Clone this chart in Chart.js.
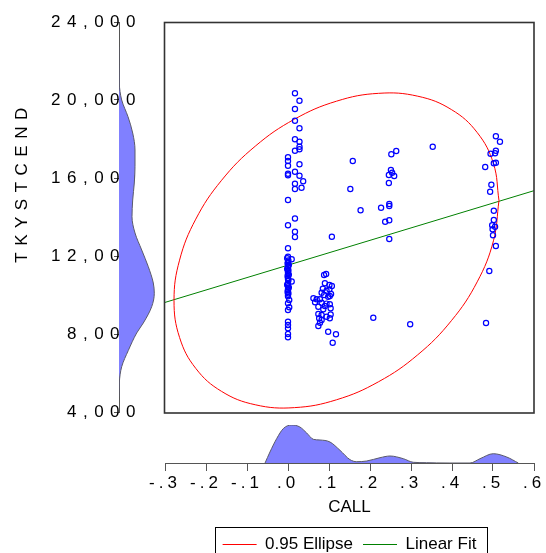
<!DOCTYPE html>
<html>
<head>
<meta charset="utf-8">
<script src="https://cdn.jsdelivr.net/npm/chart.js@4.4.1/dist/chart.umd.min.js"></script>
<style>
  html, body { margin: 0; padding: 0; background: #fff; overflow: hidden; }
  #wrap { position: relative; width: 546px; height: 553px; overflow: hidden; }
  canvas { position: absolute; left: 0; }
</style>
</head>
<body>
<div id="wrap">
  <canvas id="yTitle" width="40" height="364" style="top:0"></canvas>
  <canvas id="leftDens" width="165" height="430" style="top:0"></canvas>
  <canvas id="bottomDens" width="546" height="85" style="top:415px"></canvas>
  <canvas id="main" width="546" height="563" style="top:0"></canvas>
</div>
<script>
// observations: CALL (x) and TKYSTCEND (y)
const callValues = [
  0.017, 0.028, 0.017, 0.017, 0.028, 0.017, 0.028, 0.028, 0.028, 0.017, 0.000, 0.000, 0.028, 0.000,
  0.017, 0.000, 0.000, 0.028, 0.037, 0.017, 0.033, 0.017, 0.000, 0.017, 0.000, 0.017, 0.017, 0.000,
  0.000, 0.009, -0.002, 0.001, 0.000, -0.001, 0.002, 0.000, 0.000, -0.002, 0.001, 0.000, 0.000, 0.002,
  -0.001, 0.000, 0.000, 0.001, 0.009, 0.000, -0.002, 0.000, 0.002, 0.000, 0.000, -0.001, 0.001, 0.000,
  0.000, 0.003, 0.000, 0.003, 0.000, 0.000, 0.000, 0.000, 0.000, 0.000,
  0.093, 0.088, 0.090, 0.101, 0.107, 0.085, 0.101, 0.094, 0.082, 0.105, 0.088, 0.102, 0.098, 0.062,
  0.070, 0.078, 0.066, 0.082, 0.094, 0.102, 0.090, 0.074, 0.104, 0.086, 0.104, 0.074, 0.082, 0.094,
  0.102, 0.076, 0.082, 0.078, 0.074, 0.098, 0.117, 0.109,
  0.107, 0.158, 0.152, 0.177, 0.227, 0.247, 0.247, 0.237, 0.247, 0.247, 0.208, 0.298, 0.264, 0.252,
  0.251, 0.254, 0.246, 0.259, 0.246, 0.353,
  0.507, 0.517, 0.494, 0.507, 0.505, 0.507, 0.502, 0.481, 0.496, 0.493, 0.502, 0.502, 0.498, 0.505,
  0.499, 0.500, 0.507, 0.491, 0.483
];
const tkyValues = [
  20344, 19964, 19539, 18939, 18549, 17985, 17862, 17605, 17472, 17400, 17062, 16872, 16703, 16631,
  16323, 16221, 16139, 16118, 15831, 15708, 15503, 15436, 14872, 13923, 13580, 13247, 12975, 12400,
  11960, 11830, 11890, 11770, 11690, 11620, 11540, 11490, 11410, 11330, 11270, 11190, 11120, 11040,
  10980, 10890, 10820, 10760, 10690, 10600, 10530, 10450, 10390, 10300, 10240, 10160, 10090, 10010,
  9930, 9740, 9575, 9370, 9230, 8630, 8460, 8290, 8000, 7830,
  11077, 11026, 10600, 10513, 10462, 10324, 10290, 10221, 10118, 10052, 10000, 9950, 9913, 9831,
  9780, 9780, 9626, 9605, 9560, 9523, 9436, 9400, 9318, 9267, 9000, 9026, 8975, 8888,
  8805, 8805, 8718, 8580, 8411, 8118, 7985, 7554,
  12990, 16872, 15436, 14344, 14477, 14667, 14564, 13759, 13831, 12872, 8836, 8498, 17385, 17216,
  16410, 16272, 16154, 16103, 15744, 17605,
  18139, 17862, 17246, 17400, 17267, 16785, 16754, 16564, 15657, 15298, 14323, 13846, 13575, 13503,
  13369, 13062, 12513, 11231, 8564
];

// 0.95 ellipse outline, points read around the drawn curve
const ellipseCall = [0.5146, 0.5011, 0.4615, 0.3985, 0.3165, 0.2209, 0.1183, 0.0157, -0.0799, -0.1619,
  -0.2249, -0.2645, -0.278, -0.2645, -0.2249, -0.1619, -0.0799, 0.0157, 0.1183, 0.2209, 0.3165,
  0.3985, 0.4615, 0.5011, 0.5146];
const ellipseTky = [14847, 16741, 18331, 19510, 20195, 20342, 19939, 19014, 17631, 15884,
  13891, 11787, 9719, 7825, 6235, 5056, 4371, 4224, 4627, 5552, 6935,
  8682, 10675, 12779, 14847];

// linear fit end points
const fitCall = [-0.3, 0.6];
const fitTky = [9620, 15350];

// marginal density of TKYSTCEND (left)
const leftDensTky = [4785, 5488, 6324, 7154, 8052, 8564, 9400, 10087, 10616, 11452, 12308, 13180, 14016,
  14872, 15744, 16580, 17436, 18308, 19144, 20000, 20872, 22733];
const leftDens = [0, 0.3, 2.7, 9.3, 17.7, 24.3, 32.7, 35.3, 34.3, 29.3, 22.7, 16, 13,
  13.7, 15.3, 16, 16, 13.7, 9, 2.7, 0.3, 0];

// marginal density of CALL (bottom)
const bottomDensCall = [-0.056, -0.044, -0.0276, -0.0115, 0.009, 0.029, 0.0456, 0.0617, 0.078, 0.1024, 0.1268,
  0.151, 0.1676, 0.192, 0.2244, 0.2488, 0.2813, 0.3056, 0.338, 0.3627, 0.395, 0.444, 0.4683, 0.5007, 0.5334, 0.5617];
const bottomDens = [0, 11, 24.4, 34.4, 38, 36, 30, 23.7, 23, 21, 12.7,
  3.4, 1.3, 2, 5.3, 7, 4.3, 0.7, 0.3, 0.1, 0, 0, 4.3, 9.3, 6, 0];

const yTicks = [4000, 8000, 12000, 16000, 20000, 24000];

Chart.defaults.font.family = "'Liberation Sans', Arial, sans-serif";
Chart.defaults.font.size = 17;
Chart.defaults.color = '#000';
Chart.defaults.animation = false;
Chart.defaults.responsive = false;
Chart.defaults.plugins.tooltip.enabled = false;

const spacing = px => ({ id: 'spacing', beforeDraw(chart) { chart.ctx.letterSpacing = px; } });
const densFill = '#8080ff';
const densLine = '#5a5a6a';

// y axis title, alone on its own canvas so it can sit where EViews puts it
new Chart(document.getElementById('yTitle'), {
  type: 'scatter',
  data: { datasets: [] },
  options: {
    layout: { padding: 0 },
    plugins: { legend: { display: false } },
    scales: {
      x: { display: false },
      y: {
        min: 4000, max: 24000,
        ticks: { display: false },
        grid: { display: false },
        border: { display: false },
        title: { display: true, text: 'TKYSTCEND', padding: { top: 12, bottom: 0 } }
      }
    }
  },
  plugins: [spacing('6.5px')]
});

// left marginal density with the TKYSTCEND axis
new Chart(document.getElementById('leftDens'), {
  type: 'line',
  data: {
    datasets: [{
      data: leftDensTky.map((t, i) => ({ x: leftDens[i], y: t })),
      borderColor: densLine,
      borderWidth: 1,
      backgroundColor: densFill,
      fill: { value: 0 },
      pointRadius: 0,
      cubicInterpolationMode: 'monotone'
    }]
  },
  options: {
    indexAxis: 'y',
    layout: { padding: { top: 22, bottom: 18, left: 0, right: 0 } },
    plugins: { legend: { display: false } },
    scales: {
      x: { type: 'linear', display: false, min: 0, max: 46 },
      y: {
        type: 'linear',
        min: 4000, max: 24000,
        afterBuildTicks: s => { s.ticks = yTicks.map(v => ({ value: v })); },
        afterFit: s => { s.width = 119; },
        // mirrored so the labels are not clipped at the axis line; right-aligned like EViews
        ticks: { mirror: true, crossAlign: 'far', padding: -29, callback: v => v.toLocaleString('en-US') },
        grid: { drawOnChartArea: false, tickLength: 5, color: '#555' },
        border: { color: '#555' }
      }
    }
  },
  plugins: [spacing('6.5px')]
});

// bottom marginal density with the CALL ticks
new Chart(document.getElementById('bottomDens'), {
  type: 'line',
  data: {
    datasets: [{
      data: bottomDensCall.map((c, i) => ({ x: c, y: bottomDens[i] })),
      borderColor: densLine,
      borderWidth: 1,
      backgroundColor: densFill,
      fill: 'origin',
      pointRadius: 0,
      cubicInterpolationMode: 'monotone'
    }]
  },
  options: {
    layout: { padding: { left: 165, right: 12, top: 10, bottom: 0 } },
    plugins: { legend: { display: false } },
    scales: {
      x: {
        type: 'linear',
        min: -0.3, max: 0.6,
        afterFit: s => { s.height = 37; },
        ticks: {
          stepSize: 0.1, padding: 2, maxRotation: 0, autoSkip: false,
          callback: v => { const n = Math.round(v * 10); return (n < 0 ? '-' : '') + '.' + Math.abs(n); }
        },
        grid: { drawOnChartArea: false, tickLength: 8, color: '#555' },
        border: { color: '#555' }
      },
      y: { display: false, min: 0, max: 38 }
    }
  },
  plugins: [spacing('4px')]
});

// frame around the plot and around the legend
const frames = {
  id: 'frames',
  afterDraw(chart) {
    const { ctx, chartArea: a, legend } = chart;
    ctx.save();
    ctx.strokeStyle = '#333';
    ctx.lineWidth = 1.6;
    ctx.strokeRect(a.left - 0.5, a.top + 0.5, a.right - a.left + 0.5, a.bottom - a.top + 0.5);
    const hb = legend.legendHitBoxes;
    if (hb && hb.length) {
      const last = hb[hb.length - 1];
      const l = hb[0].left - 8;
      const r = last.left + last.width + 10;
      ctx.strokeStyle = '#000';
      ctx.lineWidth = 1;
      ctx.strokeRect(Math.round(l) + 0.5, legend.top + 1.5, Math.round(r - l), 60);
    }
    ctx.restore();
  }
};

new Chart(document.getElementById('main'), {
  type: 'scatter',
  data: {
    datasets: [
      {
        label: 'Observations',
        data: callValues.map((c, i) => ({ x: c, y: tkyValues[i] })),
        pointStyle: 'circle',
        pointRadius: 2.6,
        pointBorderWidth: 1.2,
        borderWidth: 1.2,
        borderColor: '#0000ff',
        pointBorderColor: '#0000ff',
        backgroundColor: 'rgba(0,0,0,0)',
        pointBackgroundColor: 'rgba(0,0,0,0)'
      },
      {
        label: '0.95 Ellipse',
        data: ellipseCall.map((c, i) => ({ x: c, y: ellipseTky[i] })),
        showLine: true,
        pointRadius: 0,
        borderColor: '#ff0000',
        backgroundColor: '#ff0000',
        borderWidth: 1,
        tension: 0.4
      },
      {
        label: 'Linear Fit',
        data: fitCall.map((c, i) => ({ x: c, y: fitTky[i] })),
        showLine: true,
        pointRadius: 0,
        borderColor: '#008000',
        backgroundColor: '#008000',
        borderWidth: 1
      }
    ]
  },
  options: {
    layout: { padding: { left: 165, right: 12, top: 22, bottom: 0 } },
    plugins: {
      legend: {
        position: 'bottom',
        labels: {
          usePointStyle: true,
          pointStyle: 'line',
          pointStyleWidth: 34,
          padding: 10,
          color: '#000',
          font: { size: 17 },
          filter: item => item.datasetIndex > 0
        }
      }
    },
    scales: {
      x: {
        type: 'linear',
        min: -0.3, max: 0.6,
        afterFit: s => { s.height = 114; },
        ticks: { display: false },
        grid: { display: false },
        border: { display: false },
        title: { display: true, text: 'CALL', padding: { top: 8, bottom: 8 } }
      },
      y: { type: 'linear', display: false, min: 4000, max: 24000 }
    }
  },
  plugins: [frames]
});
</script>
</body>
</html>
